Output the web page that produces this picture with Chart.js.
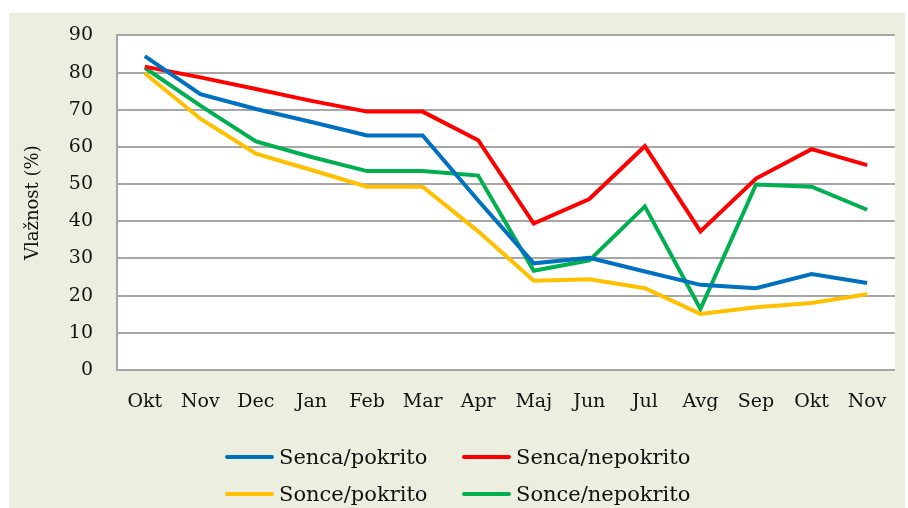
<!DOCTYPE html>
<html>
<head>
<meta charset="utf-8">
<script src="https://cdn.jsdelivr.net/npm/chart.js@4"></script>
<style>
  body { margin: 0; background: #fff; width: 908px; height: 508px; overflow: hidden; position: relative; }
  #panel { position: absolute; left: 9px; top: 13px; width: 896px; height: 495px; background: #ECEEDF; }
  #chart { position: absolute; left: 0; top: 0; }
  #legend { position: absolute; left: 225px; top: 444px; display: grid; grid-template-columns: 237px 240px; row-gap: 11px;
            font-family: "DejaVu Serif", serif; font-size: 21px; color: #111; }
  #legend .item { display: flex; align-items: center; height: 26px; }
  #legend .swatch { width: 49px; height: 4px; border-radius: 2px; margin-right: 5px; }
</style>
</head>
<body>
<div id="panel"></div>
<canvas id="chart" width="908" height="508"></canvas>
<div id="legend"></div>
<script>
const months = ['Okt', 'Nov', 'Dec', 'Jan', 'Feb', 'Mar', 'Apr', 'Maj', 'Jun', 'Jul', 'Avg', 'Sep', 'Okt', 'Nov']
const senca_pokrito = [84.4, 74.2, 70.2, 66.7, 63.1, 63.1, 45.6, 28.7, 30.2, 26.5, 22.9, 22.0, 25.8, 23.4]
const senca_nepokrito = [81.6, 78.7, 75.6, 72.4, 69.5, 69.5, 61.8, 39.4, 46.0, 60.2, 37.3, 51.5, 59.4, 55.1]
const sonce_pokrito = [79.8, 67.6, 58.2, 53.8, 49.3, 49.3, 37.3, 24.0, 24.4, 22.0, 15.1, 16.9, 18.0, 20.4]
const sonce_nepokrito = [81.3, 71.1, 61.5, 57.3, 53.5, 53.5, 52.3, 26.7, 29.5, 44.0, 16.4, 49.9, 49.3, 43.1]

const gridColor = '#A6A6A6'
const textColor = '#111111'

const line = (label, data, color) => ({
    label: label,
    data: data,
    borderColor: color,
    backgroundColor: color,
    borderWidth: 4,
    pointRadius: 0,
    tension: 0,
    fill: false
})

// white plot area on the beige panel
const plotBackground = {
    id: 'plotBackground',
    beforeDraw(chart) {
        const { ctx, chartArea } = chart
        ctx.save()
        ctx.fillStyle = '#ffffff'
        ctx.fillRect(chartArea.left, chartArea.top, chartArea.right - chartArea.left, chartArea.bottom - chartArea.top)
        ctx.restore()
    }
}

const chart = new Chart(document.querySelector('#chart'), {
    type: 'line',
    data: {
        labels: months,
        datasets: [
            line('Senca/pokrito', senca_pokrito, '#0070C0'),
            line('Senca/nepokrito', senca_nepokrito, '#FF0000'),
            line('Sonce/pokrito', sonce_pokrito, '#FFC000'),
            line('Sonce/nepokrito', sonce_nepokrito, '#00B050')
        ]
    },
    options: {
        responsive: false,
        animation: false,
        layout: {
            padding: { left: 10, right: 13, top: 32, bottom: 78 }
        },
        plugins: {
            legend: { display: false },
            tooltip: { enabled: false }
        },
        scales: {
            x: {
                offset: true,
                grid: { display: false, drawTicks: false },
                border: { color: gridColor, width: 2 },
                ticks: {
                    color: textColor,
                    padding: 21,
                    maxRotation: 0,
                    autoSkip: false,
                    font: { family: 'DejaVu Serif', size: 19 }
                },
                afterFit: scale => { scale.height = 60 }
            },
            y: {
                min: 0,
                max: 90,
                ticks: {
                    stepSize: 10,
                    color: textColor,
                    padding: 24,
                    font: { family: 'DejaVu Serif', size: 19 }
                },
                grid: { color: gridColor, lineWidth: 2, drawTicks: false },
                border: { color: gridColor, width: 2 },
                title: {
                    display: true,
                    text: 'Vlažnost (%)',
                    color: textColor,
                    padding: { top: 13, bottom: 0 },
                    font: { family: 'DejaVu Serif', size: 18 }
                },
                afterFit: scale => { scale.width = 107 }
            }
        }
    },
    plugins: [plotBackground]
})

// two-row legend like the original
const legend = document.querySelector('#legend')
chart.data.datasets.forEach(ds => {
    const item = document.createElement('div')
    item.className = 'item'
    item.innerHTML = `<span class="swatch" style="background:${ds.borderColor}"></span><span>${ds.label}</span>`
    legend.appendChild(item)
})
</script>
</body>
</html>
